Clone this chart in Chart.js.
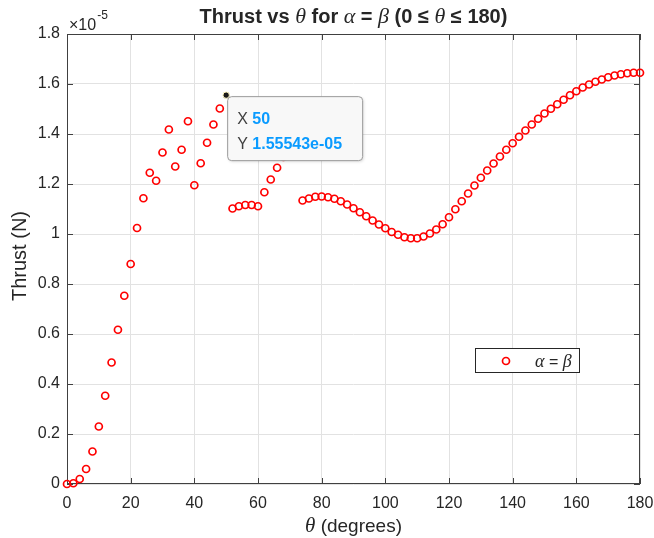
<!DOCTYPE html>
<html>
<head>
<meta charset="utf-8">
<script src="https://cdn.jsdelivr.net/npm/chart.js@4.4.0/dist/chart.umd.min.js"></script>
<style>
  html, body { margin: 0; padding: 0; background: #fff; }
  #wrap { width: 654px; height: 538px; }
</style>
</head>
<body>
<div id="wrap"><canvas id="thrustChart" width="654" height="538"></canvas></div>
<script>
// ---- data (thrust in units of 1e-5 N) ----
const thetaDeg = [
  0, 2, 4, 6, 8, 10, 12, 14, 16, 18, 20, 22, 24, 26, 28, 30, 32, 34, 36, 38,
  40, 42, 44, 46, 48, 50, 52, 54, 56, 58, 60, 62, 64, 66, 68, 70, 72, 74, 76, 78,
  80, 82, 84, 86, 88, 90, 92, 94, 96, 98, 100, 102, 104, 106, 108, 110, 112, 114, 116, 118,
  120, 122, 124, 126, 128, 130, 132, 134, 136, 138, 140, 142, 144, 146, 148, 150, 152, 154, 156, 158,
  160, 162, 164, 166, 168, 170, 172, 174, 176, 178, 180
];
// 70 and 72 sit behind the data tip box in the picture
const thrustE5 = [
  0.000, 0.003, 0.020, 0.060, 0.130, 0.230, 0.353, 0.486, 0.617, 0.753,
  0.880, 1.024, 1.143, 1.245, 1.213, 1.326, 1.418, 1.270, 1.337, 1.451,
  1.195, 1.283, 1.365, 1.438, 1.502, 1.55543, 1.102, 1.111, 1.116, 1.116,
  1.111, 1.167, 1.218, 1.265, 1.308, null, null, 1.134, 1.142, 1.149,
  1.150, 1.147, 1.141, 1.131, 1.118, 1.103, 1.087, 1.071, 1.054, 1.038,
  1.023, 1.008, 0.997, 0.987, 0.983, 0.983, 0.990, 1.002, 1.018, 1.039,
  1.067, 1.099, 1.131, 1.162, 1.194, 1.225, 1.254, 1.282, 1.310, 1.337,
  1.363, 1.389, 1.414, 1.438, 1.461, 1.482, 1.501, 1.519, 1.537, 1.555,
  1.571, 1.586, 1.598, 1.609, 1.618, 1.627, 1.634, 1.639, 1.643, 1.645,
  1.645
];
const xTickValues = [0, 20, 40, 60, 80, 100, 120, 140, 160, 180];
const xTickLabels = ['0', '20', '40', '60', '80', '100', '120', '140', '160', '180'];
const yTickValues = [0, 0.2, 0.4, 0.6, 0.8, 1, 1.2, 1.4, 1.6, 1.8];
const yTickLabels = ['0', '0.2', '0.4', '0.6', '0.8', '1', '1.2', '1.4', '1.6', '1.8'];
const tipTheta = 50;
const tipLabel = '1.55543e-05';

const SANS = '"Liberation Sans", Arial, sans-serif';
const SERIF = '"Liberation Serif", "Times New Roman", serif';
const TEXT = '#262626';
const tipIndex = thetaDeg.indexOf(tipTheta);

// draw a run of differently styled text pieces
function drawRich(ctx, parts, x, y, align) {
  let total = 0;
  parts.forEach(p => { ctx.font = p.font; total += ctx.measureText(p.text).width; });
  let cx = align === 'center' ? x - total / 2 : x;
  ctx.textAlign = 'left';
  ctx.textBaseline = 'alphabetic';
  parts.forEach(p => {
    ctx.font = p.font;
    ctx.fillStyle = p.color || TEXT;
    ctx.fillText(p.text, cx, y);
    cx += ctx.measureText(p.text).width;
  });
  return cx;
}

const matlabLook = {
  id: 'matlabLook',
  beforeDatasetsDraw(chart) {
    const { ctx, chartArea: a, scales } = chart;
    ctx.save();
    ctx.strokeStyle = '#404040';
    ctx.lineWidth = 1;
    ctx.strokeRect(a.left + 0.5, a.top + 0.5, a.right - a.left - 1, a.bottom - a.top - 1);
    // inward tick marks on all four sides
    ctx.beginPath();
    xTickValues.forEach(v => {
      const px = Math.round(scales.x.getPixelForValue(v)) + 0.5;
      ctx.moveTo(px, a.bottom); ctx.lineTo(px, a.bottom - 6);
      ctx.moveTo(px, a.top); ctx.lineTo(px, a.top + 6);
    });
    yTickValues.forEach(v => {
      const py = Math.round(scales.y.getPixelForValue(v)) + 0.5;
      ctx.moveTo(a.left, py); ctx.lineTo(a.left + 6, py);
      ctx.moveTo(a.right, py); ctx.lineTo(a.right - 6, py);
    });
    ctx.stroke();
    ctx.restore();
  },
  afterDatasetsDraw(chart) {
    const { ctx, scales } = chart;
    ctx.save();
    // data tip box
    const px = scales.x.getPixelForValue(tipTheta);
    const py = scales.y.getPixelForValue(thrustE5[tipIndex]);
    const bx = px + 1.5, by = py + 1.5, bw = 135, bh = 64;
    ctx.shadowColor = 'rgba(0,0,0,0.15)';
    ctx.shadowBlur = 3;
    ctx.shadowOffsetX = 1;
    ctx.shadowOffsetY = 1;
    ctx.fillStyle = '#f8f8f8';
    ctx.beginPath();
    ctx.roundRect(bx, by, bw, bh, 4);
    ctx.fill();
    ctx.shadowColor = 'transparent';
    ctx.strokeStyle = '#9a9a9a';
    ctx.lineWidth = 1;
    ctx.stroke();
    drawRich(ctx, [
      { text: 'X ', font: '16px ' + SANS, color: '#404040' },
      { text: String(tipTheta), font: 'bold 16px ' + SANS, color: '#0a9bff' }
    ], px + 11, py + 29);
    drawRich(ctx, [
      { text: 'Y ', font: '16px ' + SANS, color: '#404040' },
      { text: tipLabel, font: 'bold 16px ' + SANS, color: '#0a9bff' }
    ], px + 11, py + 54);

    // legend
    ctx.fillStyle = '#fff';
    ctx.fillRect(475.5, 348.5, 104, 24);
    ctx.strokeStyle = TEXT;
    ctx.strokeRect(475.5, 348.5, 104, 24);
    ctx.beginPath();
    ctx.arc(506, 361, 3.5, 0, Math.PI * 2);
    ctx.strokeStyle = '#ff0000';
    ctx.lineWidth = 1.7;
    ctx.stroke();
    drawRich(ctx, [
      { text: 'α', font: 'italic 18px ' + SERIF },
      { text: ' = ', font: '16px ' + SANS },
      { text: 'β', font: 'italic 18px ' + SERIF }
    ], 535, 367);
    ctx.restore();
  },
  afterDraw(chart) {
    const { ctx, chartArea: a } = chart;
    const mid = (a.left + a.right) / 2;
    ctx.save();
    const B = 'bold 20px ' + SANS, G = 'italic 22px ' + SERIF;
    drawRich(ctx, [
      { text: 'Thrust vs ', font: B }, { text: 'θ', font: G },
      { text: ' for ', font: B }, { text: 'α', font: G },
      { text: ' = ', font: B }, { text: 'β', font: G },
      { text: ' (0 ≤ ', font: B }, { text: 'θ', font: G },
      { text: ' ≤ 180)', font: B }
    ], mid, 23, 'center');
    // exponent label
    const ex = drawRich(ctx, [{ text: '×10', font: '16px ' + SANS }], a.left + 2, 30);
    drawRich(ctx, [{ text: '-5', font: '12px ' + SANS }], ex + 1, 19);
    // x axis title
    drawRich(ctx, [
      { text: 'θ', font: 'italic 21px ' + SERIF },
      { text: ' (degrees)', font: '19px ' + SANS }
    ], mid, 532, 'center');
    // y axis title
    ctx.translate(26, (a.top + a.bottom) / 2 - 3);
    ctx.rotate(-Math.PI / 2);
    ctx.font = '20px ' + SANS;
    ctx.fillStyle = TEXT;
    ctx.textAlign = 'center';
    ctx.textBaseline = 'alphabetic';
    ctx.fillText('Thrust (N)', 0, 0);
    ctx.restore();
  }
};

const points = thetaDeg.map((t, i) => ({ x: t, y: thrustE5[i] }));

function noScalePadding(s) {
  s.paddingLeft = 0; s.paddingRight = 0; s.paddingTop = 0; s.paddingBottom = 0;
}

new Chart(document.getElementById('thrustChart'), {
  type: 'scatter',
  data: {
    datasets: [{
      label: 'α = β',
      data: points,
      clip: false,
      pointStyle: 'circle',
      pointRadius: c => c.dataIndex === tipIndex ? 3.2 : 3.5,
      pointBorderWidth: c => c.dataIndex === tipIndex ? 1 : 1.7,
      pointBackgroundColor: c => c.dataIndex === tipIndex ? '#1a1a1a' : 'rgba(0,0,0,0)',
      pointBorderColor: c => c.dataIndex === tipIndex ? '#fff6c0' : '#ff0000',
      pointHoverRadius: 3.5
    }]
  },
  options: {
    responsive: false,
    devicePixelRatio: 1,
    animation: false,
    layout: { padding: { top: 34, right: 14, left: 0, bottom: 0 } },
    plugins: { legend: { display: false }, tooltip: { enabled: false }, title: { display: false } },
    scales: {
      x: {
        type: 'linear',
        min: 0, max: 180,
        afterFit: s => { s.height = 54; noScalePadding(s); },
        afterBuildTicks: s => { s.ticks = xTickValues.map(v => ({ value: v })); },
        ticks: {
          callback: v => xTickLabels[xTickValues.indexOf(v)],
          color: TEXT, font: { size: 16, family: SANS },
          padding: 10, maxRotation: 0, autoSkip: false
        },
        grid: { color: '#e2e2e2', drawTicks: false },
        border: { display: false }
      },
      y: {
        type: 'linear',
        min: 0, max: 1.8,
        afterFit: s => { s.width = 67; noScalePadding(s); },
        afterBuildTicks: s => { s.ticks = yTickValues.map(v => ({ value: v })); },
        ticks: {
          callback: v => yTickLabels[yTickValues.indexOf(v)],
          color: TEXT, font: { size: 16, family: SANS },
          padding: 7, autoSkip: false
        },
        grid: { color: '#e2e2e2', drawTicks: false },
        border: { display: false }
      }
    }
  },
  plugins: [matlabLook]
});
</script>
</body>
</html>
